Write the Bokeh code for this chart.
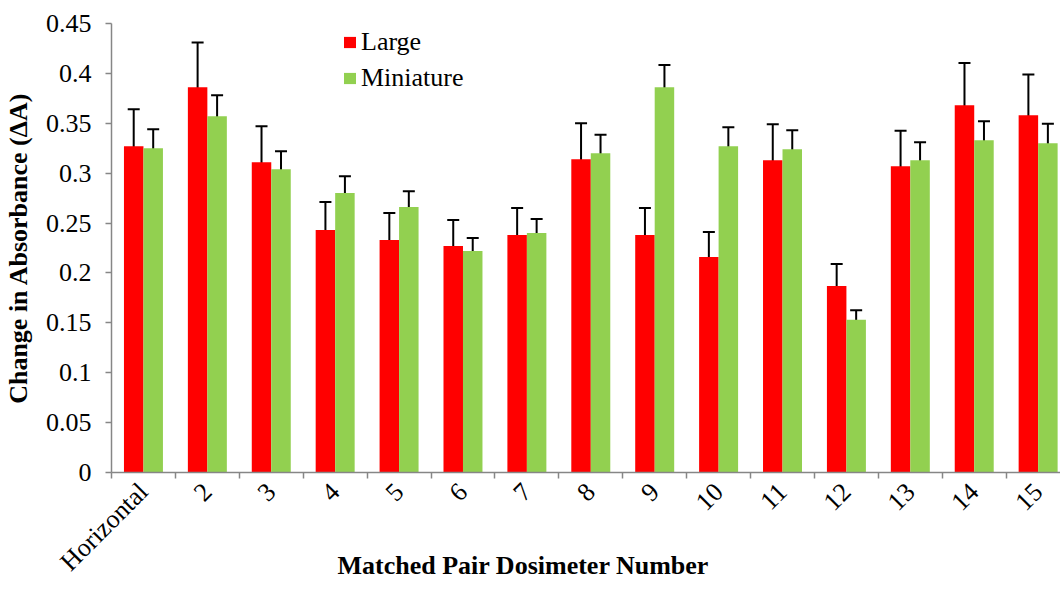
import numpy as np
from bokeh.plotting import figure
from bokeh.models import (ColumnDataSource, Range1d, FixedTicker, Whisker, TeeHead,
                          Legend, LegendItem, Title)
from bokeh.embed import file_html
from bokeh.resources import INLINE

# ---------------- data ----------------
categories = ["Horizontal", "2", "3", "4", "5", "6", "7", "8", "9", "10",
              "11", "12", "13", "14", "15"]
large = [0.327, 0.386, 0.311, 0.243, 0.233, 0.227, 0.238, 0.314, 0.238, 0.216,
         0.313, 0.187, 0.307, 0.368, 0.358]
large_err = [0.037, 0.045, 0.036, 0.028, 0.027, 0.026, 0.027, 0.036, 0.027, 0.025,
             0.036, 0.022, 0.0355, 0.0425, 0.041]
miniature = [0.325, 0.357, 0.304, 0.280, 0.266, 0.222, 0.240, 0.320, 0.386, 0.327,
             0.324, 0.153, 0.313, 0.333, 0.330]
miniature_err = [0.019, 0.021, 0.018, 0.017, 0.016, 0.013, 0.014, 0.0185, 0.0225, 0.019,
                 0.019, 0.0095, 0.018, 0.019, 0.0195]
y_ticks = [0, 0.05, 0.1, 0.15, 0.2, 0.25, 0.3, 0.35, 0.4, 0.45]
y_tick_labels = ["0", "0.05", "0.1", "0.15", "0.2", "0.25", "0.3", "0.35", "0.4", "0.45"]
series_names = ["Large", "Miniature"]
x_title = "Matched Pair Dosimeter Number"
y_title = "Change in Absorbance (\u0394A)"

RED = "#FF0000"
GREEN = "#92D050"
FONT = "serif"
FS = "26px"
BAR_W = 0.305

n = len(categories)
centers = np.arange(n) + 0.5
bounds = list(np.arange(n + 1).astype(float))

src_l = ColumnDataSource(dict(
    x=centers - BAR_W / 2, top=large,
    upper=np.array(large) + np.array(large_err),
    lower=np.array(large) - np.array(large_err)))
src_m = ColumnDataSource(dict(
    x=centers + BAR_W / 2, top=miniature,
    upper=np.array(miniature) + np.array(miniature_err),
    lower=np.array(miniature) - np.array(miniature_err)))

p = figure(width=1060, height=589, x_range=Range1d(0, 14.85), y_range=Range1d(0, 0.45),
           output_backend="svg", toolbar_location=None,
           min_border_left=111, min_border_right=0, min_border_top=23,
           min_border_bottom=117)
p.outline_line_color = None
p.xgrid.visible = False
p.ygrid.visible = False
p.background_fill_color = "white"

r_l = p.vbar(x="x", top="top", width=BAR_W, source=src_l, fill_color=RED, line_color=None)
r_m = p.vbar(x="x", top="top", width=BAR_W, source=src_m, fill_color=GREEN, line_color=None)

for src in (src_l, src_m):
    w = Whisker(base="x", upper="upper", lower="lower", source=src,
                line_color="black", line_width=2,
                upper_head=TeeHead(size=12, line_color="black", line_width=2),
                lower_head=TeeHead(size=12, line_color="black", line_width=2))
    p.add_layout(w)

AXIS_COLOR = "#868686"

# y axis
ya = p.yaxis[0]
ya.ticker = FixedTicker(ticks=y_ticks)
ya.major_label_overrides = {t: lab for t, lab in zip(y_ticks, y_tick_labels)}
ya.major_label_text_font = FONT
ya.major_label_text_font_size = FS
ya.major_label_text_color = "black"
ya.axis_line_color = AXIS_COLOR
ya.axis_line_width = 1.5
ya.major_tick_line_color = AXIS_COLOR
ya.major_tick_line_width = 1.5
ya.major_tick_in = 0
ya.major_tick_out = 6
ya.minor_tick_line_color = None
ya.major_label_standoff = 14
ya.axis_label = y_title
ya.axis_label_text_font = FONT
ya.axis_label_text_font_style = "bold"
ya.axis_label_text_font_size = FS
ya.axis_label_text_color = "black"
ya.axis_label_standoff = 10

# x axis: labels at centres, tick marks at category boundaries (minor ticks)
xa = p.xaxis[0]
xa.ticker = FixedTicker(ticks=list(centers), minor_ticks=bounds)
xa.major_label_overrides = {float(c): lab for c, lab in zip(centers, categories)}
xa.major_label_orientation = np.pi / 4
xa.major_label_text_font = FONT
xa.major_label_text_font_size = FS
xa.major_label_text_color = "black"
xa.major_label_standoff = 9
xa.axis_line_color = AXIS_COLOR
xa.axis_line_width = 1.5
xa.major_tick_line_color = None
xa.minor_tick_line_color = AXIS_COLOR
xa.minor_tick_line_width = 1.5
xa.minor_tick_in = 0
xa.minor_tick_out = 6

# x axis title, left-offset as in the original
xt = Title(text=x_title, align="left", offset=226, standoff=-78, vertical_align="top",
           text_font=FONT, text_font_style="bold", text_font_size=FS,
           text_color="black")
p.add_layout(xt, "below")

legend = Legend(items=[LegendItem(label=series_names[0], renderers=[r_l]),
                       LegendItem(label=series_names[1], renderers=[r_m])],
                location=(231, 379), orientation="vertical",
                padding=0, margin=0, spacing=6,
                glyph_width=15, glyph_height=14, label_standoff=4,
                label_text_font=FONT, label_text_font_size=FS,
                label_text_color="black",
                border_line_color=None, background_fill_alpha=0)
p.add_layout(legend)

open("out.html", "w").write(file_html(p, INLINE))
